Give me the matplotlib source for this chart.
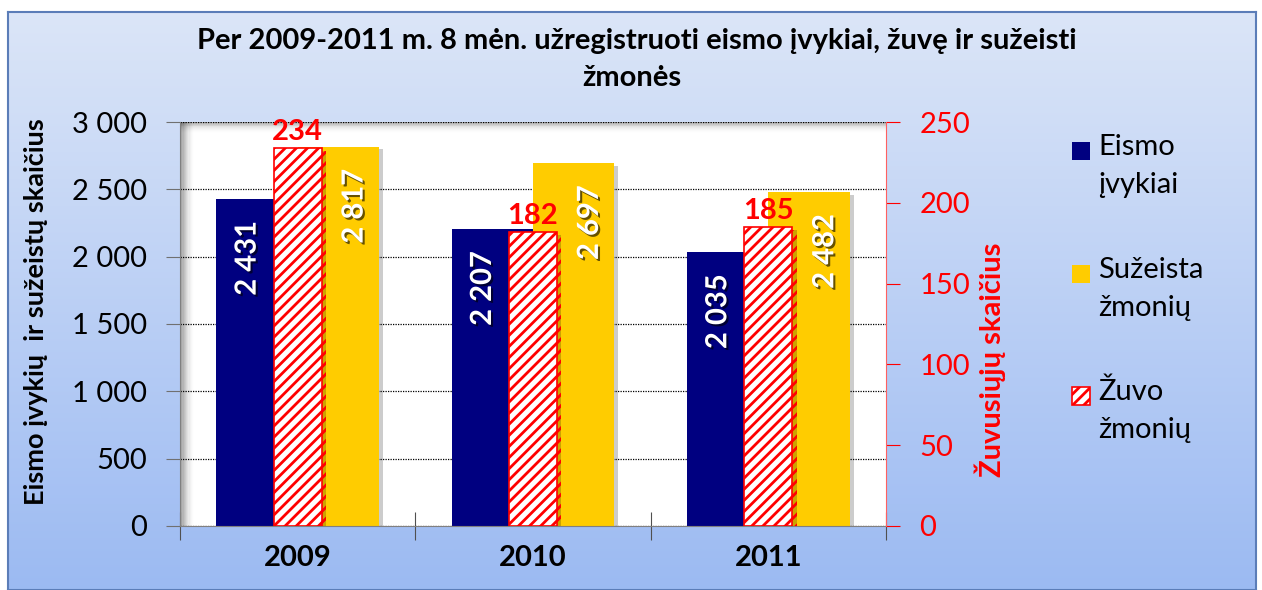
import numpy as np
import matplotlib
matplotlib.use("Agg")
import matplotlib.pyplot as plt
from matplotlib.patches import Rectangle
import matplotlib.patheffects as pe

years = ["2009", "2010", "2011"]
eismo = [2431, 2207, 2035]        # eismo įvykiai
suzeista = [2817, 2697, 2482]     # sužeista žmonių
zuvo = [234, 182, 185]            # žuvo žmonių
left_ticks = [0, 500, 1000, 1500, 2000, 2500, 3000]
left_ticklabels = ["0", "500", "1 000", "1 500", "2 000", "2 500", "3 000"]
right_ticks = [0, 50, 100, 150, 200, 250]
legend_labels = ["Eismo\nįvykiai", "Sužeista\nžmonių", "Žuvo\nžmonių"]

NAVY = "#000080"
YELLOW = "#ffcc00"
RED = "#ff0000"
FS = 21

plt.rcParams["font.family"] = ["Lato", "DejaVu Sans"]
plt.rcParams["hatch.linewidth"] = 2.0

W, H = 1262, 590
fig = plt.figure(figsize=(W / 100, H / 100), dpi=100)

# gradient background frame
bg = fig.add_axes([8 / W, 0, (1256 - 8) / W, (H - 12) / H])
grad = np.linspace(0, 1, 256)[:, None]
top = np.array([0.86, 0.90, 0.97])
bot = np.array([0.61, 0.73, 0.95])
img = top[None, None, :] * (1 - grad[..., None]) + bot[None, None, :] * grad[..., None]
bg.imshow(img, aspect="auto", extent=[0, 1, 0, 1])
bg.set_xlim(0, 1)
bg.set_ylim(0, 1)
bg.set_xticks([])
bg.set_yticks([])
for s in bg.spines.values():
    s.set_color("#5b7db8")
    s.set_linewidth(1.5)

ax = fig.add_axes([180 / W, (H - 526) / H, (886 - 180) / W, (526 - 122) / H])
ax.set_facecolor("white")
ax.set_axisbelow(True)

x = np.arange(len(years))
pw = 0.345   # primary bar width
sw = 0.205   # secondary bar width

shadow = [pe.SimplePatchShadow(offset=(3, -2), shadow_rgbFace="black", alpha=0.2), pe.Normal()]
ax.bar(x - pw / 2, eismo, pw, color=NAVY, zorder=2, path_effects=shadow)
ax.bar(x + pw / 2, suzeista, pw, color=YELLOW, zorder=2, path_effects=shadow)

ax.set_xlim(-0.5, 2.5)
ax.set_ylim(0, 3000)
ax.set_yticks(left_ticks)
ax.set_yticklabels(left_ticklabels, fontsize=FS)
ax.yaxis.grid(True, color="black", linestyle=(0, (1, 1)), linewidth=0.9)
ax.tick_params(axis="y", direction="out", length=10, color="#707070", pad=14)
ax.set_xticks([-0.5, 0.5, 1.5, 2.5])
ax.set_xticklabels([])
ax.set_xticks(x, minor=True)
ax.set_xticklabels(years, minor=True, fontsize=FS, fontweight="bold")
ax.tick_params(axis="x", which="major", direction="inout", length=20, color="#505050")
ax.tick_params(axis="x", which="minor", length=0, pad=14)
for side in ["top", "right"]:
    ax.spines[side].set_visible(False)
ax.spines["left"].set_color("#808080")
ax.spines["bottom"].set_color("#808080")

# inner shadow of plot area
for i in range(12):
    a = 0.07 * (1 - i / 12)
    ax.add_patch(Rectangle((0, 0), 0.0017 * (i + 1), 1, transform=ax.transAxes,
                           color="black", alpha=a, lw=0, zorder=1))
    ax.add_patch(Rectangle((0, 1 - 0.0022 * (i + 1)), 1, 0.0022 * (i + 1), transform=ax.transAxes,
                           color="black", alpha=a * 0.7, lw=0, zorder=1))

ax2 = ax.twinx()
ax2.bar(x, zuvo, sw, facecolor="white", edgecolor=RED, hatch="///", linewidth=1.2,
        zorder=3, path_effects=shadow)
ax2.set_ylim(0, 250)
ax2.set_yticks(right_ticks)
ax2.tick_params(axis="y", colors=RED, labelsize=FS, direction="out", length=10, pad=14)
for side in ["top", "left", "bottom"]:
    ax2.spines[side].set_visible(False)
ax2.spines["right"].set_color("#ff6060")

# data labels
txt_fx = [pe.withSimplePatchShadow(offset=(1.5, -1.5), shadow_rgbFace="black", alpha=0.6)]
for i, v in enumerate(eismo):
    ax.annotate(f"{v:,}".replace(",", " "), (x[i] - pw / 2 - 0.04, v), xytext=(0, -16),
                textcoords="offset points", rotation=90, ha="center", va="top",
                color="white", fontsize=FS, fontweight="bold", path_effects=txt_fx, zorder=5)
for i, v in enumerate(suzeista):
    ax.annotate(f"{v:,}".replace(",", " "), (x[i] + 0.242, v), xytext=(0, -16),
                textcoords="offset points", rotation=90, ha="center", va="top",
                color="white", fontsize=FS, fontweight="bold", path_effects=txt_fx, zorder=5)
for i, v in enumerate(zuvo):
    ax2.annotate(str(v), (x[i], v), xytext=(0, 2), textcoords="offset points",
                 ha="center", va="bottom", color=RED, fontsize=FS, fontweight="bold", zorder=5)

# titles and axis labels
fig.text(637 / W, 1 - 49 / H, "Per 2009-2011 m. 8 mėn. užregistruoti eismo įvykiai, žuvę ir sužeisti",
         ha="center", va="baseline", fontsize=FS, fontweight="bold")
fig.text(632 / W, 1 - 86 / H, "žmonės", ha="center", va="baseline", fontsize=FS, fontweight="bold")
fig.text(36 / W, 1 - 312 / H, "Eismo įvykių  ir sužeistų skaičius", rotation=90,
         ha="center", va="center", fontsize=19.5, fontweight="bold")
fig.text(990 / W, 1 - 360 / H, "Žuvusiųjų skaičius", rotation=90, color=RED,
         ha="center", va="center", fontsize=FS, fontweight="bold")

# legend
leg_y = [142, 265, 387]
leg_style = [dict(facecolor=NAVY, edgecolor="none"),
             dict(facecolor=YELLOW, edgecolor="none"),
             dict(facecolor="white", edgecolor=RED, hatch="///", linewidth=1.2)]
for yy, lab, st in zip(leg_y, legend_labels, leg_style):
    fig.patches.append(Rectangle((1072 / W, 1 - (yy + 18) / H), 18 / W, 18 / H,
                                 transform=fig.transFigure, figure=fig, **st))
    fig.text(1098 / W, 1 - (yy - 8) / H, lab, ha="left", va="top", fontsize=FS,
             linespacing=1.55)

fig.savefig("out.png", dpi=100)
